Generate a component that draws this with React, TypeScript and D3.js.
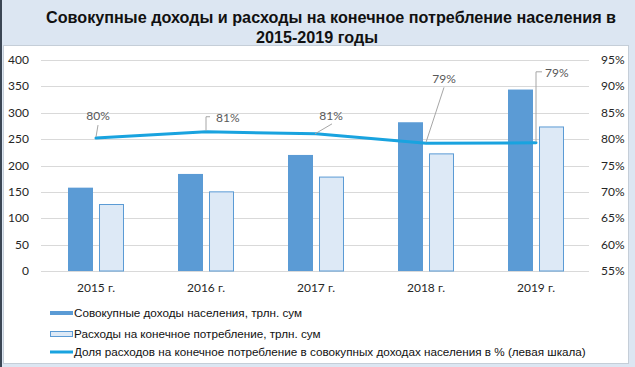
import * as d3 from "d3"

const years = ["2015 г.", "2016 г.", "2017 г.", "2018 г.", "2019 г."]
const incomes = [158, 184, 220, 282, 344]
const spending = [127, 151, 179, 223, 274]
const shares = [0.802, 0.814, 0.81, 0.792, 0.793]
const shareLabels = ["80%", "81%", "81%", "79%", "79%"]
const leftTicks = [0, 50, 100, 150, 200, 250, 300, 350, 400]
const rightTicks = [0.55, 0.6, 0.65, 0.7, 0.75, 0.8, 0.85, 0.9, 0.95]
const legendNames = [
  "Совокупные доходы населения, трлн.  сум",
  "Расходы на конечное потребление, трлн.  сум",
  "Доля расходов на конечное потребление в совокупных доходах населения в % (левая шкала)",
]

const W = 635
const H = 367
const left = 41
const right = 591
const top = 60
const bottom = 271

const tickFont = "Lato, 'Open Sans', sans-serif"
const legendFont = "'Liberation Sans', Arial, sans-serif"

// leader line placement for each data label: [path points relative to point, text anchor x, text y]
const labelPlaces: { path: [number, number][]; tx: number; ty: number; anchor: string }[] = [
  { path: [[0, -1], [2, -13]], tx: 2, ty: -22, anchor: "middle" },
  { path: [[0, -1], [0, -15], [4, -15]], tx: 10, ty: -14, anchor: "start" },
  { path: [[-1, 0], [16, -10]], tx: 15, ty: -18, anchor: "middle" },
  { path: [[0, -1], [18, -56]], tx: 18, ty: -64, anchor: "middle" },
  { path: [[0, -1], [0, -71], [6, -71]], tx: 9, ty: -70, anchor: "start" },
]

export default function App() {
  const x = d3.scaleBand().domain(years).range([left, right]).padding(0)
  const inner = d3.scaleBand<number>().domain([0, 1]).range([-28, 28]).paddingInner(0.194)
  const y = d3.scaleLinear().domain([0, 400]).range([bottom, top])
  const y2 = d3.scaleLinear().domain([0.55, 0.95]).range([bottom, top])
  const cx = (d: string) => x(d)! + x.bandwidth() / 2

  const line = d3
    .line<number>()
    .x((_, i) => cx(years[i]))
    .y((d) => y2(d))

  const pct = d3.format(".0%")

  return (
    <svg
      width={W}
      height={H}
      style={{ position: "absolute", left: 0, top: 0, display: "block" }}
    >
      <rect x={0} y={0} width={W} height={H} fill="#dce6f2" />
      <rect x={0} y={0} width={2} height={H} fill="#3b4654" />
      <rect x={3.5} y={45.5} width={625} height={318} fill="#fff" stroke="#c5ced8" />

      <g fontFamily={legendFont} fontWeight="bold" fontSize={16.2} fill="#111" textAnchor="middle">
        <text x={331} y={23}>Совокупные доходы и расходы на конечное потребление населения в</text>
        <text x={317} y={43}>2015-2019 годы</text>
      </g>

      {/* gridlines */}
      <g stroke="#d9d9d9" strokeWidth={1}>
        {leftTicks.map((t) => (
          <line key={t} x1={left} x2={right - 2} y1={Math.round(y(t)) + 0.5} y2={Math.round(y(t)) + 0.5} />
        ))}
      </g>

      {/* axis labels */}
      <g fontFamily={tickFont} fontSize={12} fill="#262626">
        {leftTicks.map((t) => (
          <text key={t} x={29} y={y(t) + 4} textAnchor="end">
            {t}
          </text>
        ))}
        {rightTicks.map((t) => (
          <text key={t} x={601} y={y2(t) + 4} textAnchor="start">
            {pct(t)}
          </text>
        ))}
        {years.map((yr) => (
          <text key={yr} x={cx(yr)} y={292} textAnchor="middle">
            {yr}
          </text>
        ))}
      </g>

      {/* bars */}
      {years.map((yr, i) => (
        <g key={yr}>
          <rect
            x={cx(yr) + inner(0)!}
            y={y(incomes[i])}
            width={inner.bandwidth()}
            height={y(0) - y(incomes[i])}
            fill="#5b9bd5"
          />
          <rect
            x={cx(yr) + inner(1)! + 0.5}
            y={y(spending[i]) + 0.5}
            width={inner.bandwidth() - 1}
            height={y(0) - y(spending[i]) - 0.5}
            fill="#dde9f6"
            stroke="#5b9bd5"
            strokeWidth={1}
          />
        </g>
      ))}

      {/* share line */}
      <path
        d={line(shares)!}
        fill="none"
        stroke="#19a3df"
        strokeWidth={3}
        strokeLinecap="round"
        strokeLinejoin="round"
      />

      {/* data labels */}
      <g fontFamily={tickFont} fontSize={12} fill="#595959">
        {shares.map((s, i) => {
          const px = cx(years[i])
          const py = y2(s)
          const p = labelPlaces[i]
          return (
            <g key={i}>
              <polyline
                points={p.path.map(([dx, dy]) => `${px + dx},${py + dy}`).join(" ")}
                fill="none"
                stroke="#a6a6a6"
                strokeWidth={1}
              />
              <text x={px + p.tx} y={py + p.ty + 4} textAnchor={p.anchor}>
                {shareLabels[i]}
              </text>
            </g>
          )
        })}
      </g>

      {/* legend */}
      <g fontFamily={legendFont} fontSize={11.7} fill="#111">
        <rect x={50} y={311} width={23} height={4} fill="#5b9bd5" />
        <text x={74} y={317}>{legendNames[0]}</text>
        <rect x={50.5} y={331.5} width={22} height={5} fill="#dde9f6" stroke="#5b9bd5" />
        <text x={74} y={338}>{legendNames[1]}</text>
        <line x1={50} x2={73} y1={352} y2={352} stroke="#19a3df" strokeWidth={3} />
        <text x={74} y={356}>{legendNames[2]}</text>
      </g>
    </svg>
  )
}
